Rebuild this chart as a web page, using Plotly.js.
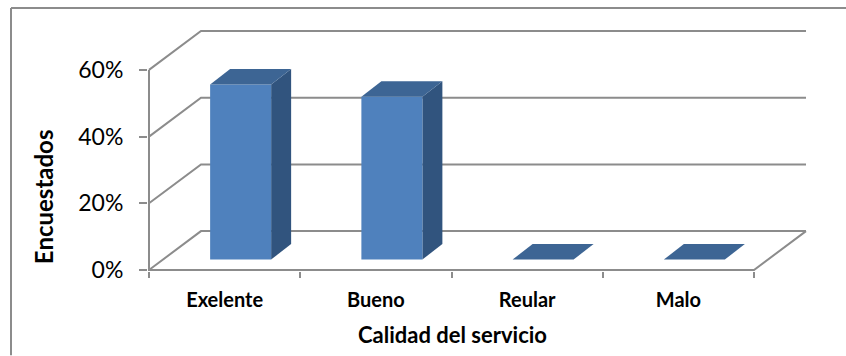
<!DOCTYPE html>
<html>
<head>
<meta charset="utf-8">
<script src="https://cdn.plot.ly/plotly-3.0.1.min.js"></script>
<style>html,body{margin:0;padding:0;background:#fff}#chart{width:846px;height:356px}</style>
</head>
<body>
<div id="chart"></div>
<script>
// Service quality survey: share of respondents per rating
const categories = ['Exelente', 'Bueno', 'Reular', 'Malo'];
const shares = [52.5, 48.8, 0, 0];
const percentTicks = [0, 20, 40, 60];

const xAxisTitle = 'Calidad del servicio';
const yAxisTitle = 'Encuestados';

// Plot box in pixels, with a small pad so the wireframe strokes are not cut at the edges
const W = 846, H = 356, PAD = 1;
const m = {l: 149 - PAD, r: 40 - PAD, t: 30 - PAD, b: 85.5 - PAD};
const plotW = W - m.l - m.r, plotH = H - m.t - m.b;
const pxPerCat = 151.25, pxPerPct = 200.5 / 60;
const xu = px => px / pxPerCat, yu = px => px / pxPerPct;
const xRange = [-xu(PAD), xu(plotW - PAD)], yRange = [-yu(PAD), yu(plotH - PAD)];

// Oblique projection offsets: wall depth, and bar placement and depth
const wallDx = xu(52), wallDy = yu(39);
const barShiftX = xu(16), barShiftY = yu(10.5);
const barW = xu(61), barDx = xu(20), barDy = yu(15.5);

const GRID = '#8c8c8c', FRONT = '#4f81bd', SIDE = '#31547e', TOP = '#3d6594';

function wireframe() {
  const x = [], y = [], n = categories.length;
  percentTicks.forEach(v => {
    x.push(0, wallDx, n + wallDx, null);
    y.push(v, v + wallDy, v + wallDy, null);
  });
  // floor edges and the front axis lines
  x.push(n + wallDx, n, 0, 0, null);
  y.push(wallDy, 0, 0, percentTicks[percentTicks.length - 1], null);
  return {type: 'scatter', mode: 'lines', x, y, hoverinfo: 'skip',
          line: {color: GRID, width: 2}};
}

function face(x, y, color) {
  return {type: 'scatter', mode: 'lines', x, y, fill: 'toself', fillcolor: color,
          line: {width: 0, color: color}, hoverinfo: 'skip'};
}

const barFaces = [];
categories.forEach((c, i) => {
  const x0 = i + 0.5 + barShiftX - barW / 2, x1 = x0 + barW;
  const y0 = barShiftY, y1 = y0 + shares[i];
  if (shares[i] > 0) {
    barFaces.push(face([x1, x1 + barDx, x1 + barDx, x1, x1],
                       [y0, y0 + barDy, y1 + barDy, y1, y0], SIDE));
    barFaces.push(face([x0, x1, x1, x0, x0], [y0, y0, y1, y1, y0], FRONT));
  }
  barFaces.push(face([x0, x1, x1 + barDx, x0 + barDx, x0],
                     [y1, y1, y1 + barDy, y1 + barDy, y1], TOP));
});

const px = v => (v - m.l) / plotW, py = v => 1 - (v - m.t) / plotH;
const titleFont = size => ({family: 'Lato, sans-serif', size, color: '#000', weight: 700});

const layout = {
  width: W, height: H, margin: m, showlegend: false,
  paper_bgcolor: '#fff', plot_bgcolor: 'rgba(0,0,0,0)',
  font: {family: 'Lato, sans-serif', color: '#000'},
  xaxis: {
    range: xRange, showgrid: false, zeroline: false, showline: false, fixedrange: true,
    tickmode: 'array', tickvals: categories.map((c, i) => i + 0.5), ticktext: categories,
    ticks: '', ticklabelstandoff: 15,
    tickfont: titleFont(20),
    minor: {tickmode: 'array', tickvals: [0, 1, 2, 3, 4], ticks: 'outside', ticklen: 6, tickwidth: 2, tickcolor: GRID, showgrid: false}
  },
  yaxis: {
    range: yRange, showgrid: false, zeroline: false, showline: false, fixedrange: true,
    tickmode: 'array', tickvals: percentTicks, ticktext: percentTicks.map(v => v + '%'),
    ticks: 'outside', ticklen: 8, tickwidth: 2, tickcolor: GRID, ticklabelstandoff: 11,
    tickfont: {family: 'Lato, sans-serif', size: 23, color: '#000'}
  },
  annotations: [
    // axis titles sit off-centre from the plot box
    {text: yAxisTitle, textangle: -90, showarrow: false, xref: 'paper', yref: 'paper',
     x: px(43), y: py(197.5), xanchor: 'center', yanchor: 'middle', font: titleFont(24)},
    {text: xAxisTitle, showarrow: false, xref: 'paper', yref: 'paper',
     x: px(452), y: py(335), xanchor: 'center', yanchor: 'middle', font: titleFont(22)}
  ],
  shapes: [
    // chart frame: top and left edges only
    {type: 'line', xref: 'paper', yref: 'paper', line: {color: GRID, width: 2},
     x0: px(11), x1: px(W), y0: py(8), y1: py(8)},
    {type: 'line', xref: 'paper', yref: 'paper', line: {color: GRID, width: 2},
     x0: px(11), x1: px(11), y0: py(8), y1: py(H)}
  ]
};

Plotly.newPlot('chart', [wireframe(), ...barFaces], layout, {displayModeBar: false, staticPlot: true});
</script>
</body>
</html>
